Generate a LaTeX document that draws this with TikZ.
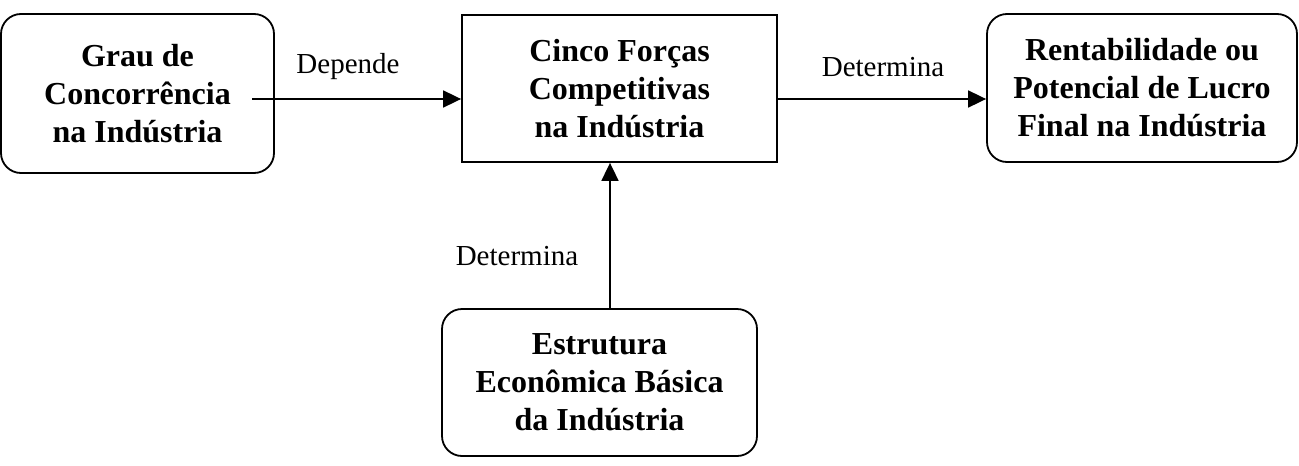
\documentclass[tikz,border=0pt]{standalone}
\usepackage{fontspec}
\setmainfont{Liberation Serif}
\usetikzlibrary{arrows.meta}
\begin{document}
\begin{tikzpicture}[x=1pt,y=-1pt,
  box/.style={draw,line width=1.8pt,align=center,inner sep=0pt,
    font=\fontsize{32}{38}\selectfont\bfseries},
  rbox/.style={box,rounded corners=20pt},
  lbl/.style={font=\fontsize{29}{34}\selectfont,inner sep=0pt},
  conn/.style={line width=1.8pt,-{Triangle[length=18pt,width=17pt]}}]
\useasboundingbox (0,0) rectangle (1299,466);
\node[rbox,minimum width=273pt,minimum height=159pt] (grau) at (137.5,93.5)
  {Grau de\\Concorrência\\na Indústria};
\node[box,minimum width=315pt,minimum height=147pt] (cinco) at (619.5,88.5)
  {Cinco Forças\\Competitivas\\na Indústria};
\node[rbox,minimum width=310pt,minimum height=148pt] (rent) at (1142,88)
  {Rentabilidade ou\\Potencial de Lucro\\Final na Indústria};
\node[rbox,minimum width=315pt,minimum height=147pt] (estr) at (599.5,382.5)
  {Estrutura\\Econômica Básica\\da Indústria};
\coordinate (dstart) at (252,99);
\coordinate (rstart) at (cinco.east |- dstart);
\coordinate (vx) at (610,0);
\draw[conn] (dstart) -- (cinco.west |- dstart);
\draw[conn] (rstart) -- (rent.west |- rstart);
\draw[conn] (vx |- estr.north) -- (vx |- cinco.south);
\node[lbl] (l1) at (348,67) {Depende};
\node[lbl] (l2) at (883,67) {Determina};
\node[lbl] (l3) at (517,256) {Determina};
\end{tikzpicture}
\end{document}
